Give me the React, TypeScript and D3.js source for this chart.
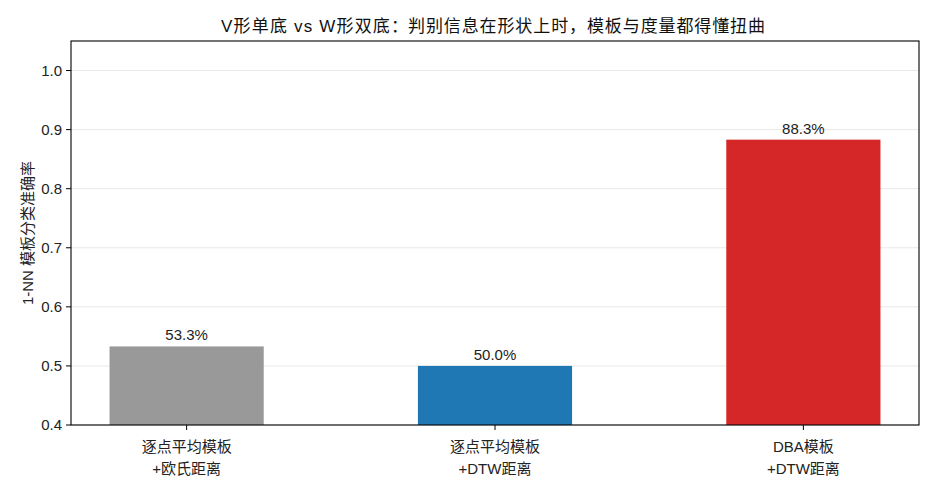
import React from "react";
import * as d3 from "d3";

const categories = ["逐点平均模板\n+欧氏距离", "逐点平均模板\n+DTW距离", "DBA模板\n+DTW距离"];
const values = [0.533, 0.5, 0.883];
const valueLabels = ["53.3%", "50.0%", "88.3%"];
const colors = ["#999999", "#1f77b4", "#d62728"];
const yTicks = [0.4, 0.5, 0.6, 0.7, 0.8, 0.9, 1.0];
const titleA = "V形单底 vs W形双底：";
const titleB = "判别信息在形状上时，模板与度量都得懂扭曲";
const yLabel = "1-NN 模板分类准确率";

const W = 935, H = 495;
const L = 71, R = 919, T = 41, B = 425;
const font = "'Liberation Sans', 'Noto Sans CJK SC', sans-serif";

export default function App() {
  const x = d3.scaleLinear().domain([-0.375, 2.375]).range([L, R]);
  const y = d3.scaleLinear().domain([0.4, 1.05]).range([B, T]);
  const bw = x(0.5) - x(0);
  return (
    <svg width={W} height={H} style={{ position: "absolute", left: 0, top: 0 }} fontFamily={font}>
      <rect width={W} height={H} fill="#fff" />
      {yTicks.map((t) => (
        <line key={"g" + t} x1={L} x2={R} y1={y(t)} y2={y(t)} stroke="#e8e8e8" strokeWidth={1} />
      ))}
      {values.map((v, i) => (
        <g key={i}>
          <rect x={x(i) - bw / 2} y={y(v)} width={bw} height={y(0.4) - y(v)} fill={colors[i]} />
          <text x={x(i)} y={y(v) - 6} textAnchor="middle" fontSize={15} fill="#222">{valueLabels[i]}</text>
        </g>
      ))}
      <rect x={L} y={T} width={R - L} height={B - T} fill="none" stroke="#000" strokeWidth={1.1} />
      {yTicks.map((t) => (
        <g key={"t" + t}>
          <line x1={L - 5} x2={L} y1={y(t)} y2={y(t)} stroke="#000" />
          <text x={L - 9} y={y(t)} dy="0.36em" textAnchor="end" fontSize={15} fill="#222">{t.toFixed(1)}</text>
        </g>
      ))}
      {categories.map((c, i) => (
        <g key={"c" + i}>
          <line x1={x(i)} x2={x(i)} y1={B} y2={B + 5} stroke="#000" />
          {c.split("\n").map((s, j) => (
            <text key={j} x={x(i)} y={B + 27 + j * 22} textAnchor="middle" fontSize={15} fill="#222">{s}</text>
          ))}
        </g>
      ))}
      <text x={33} y={(T + B) / 2} transform={`rotate(-90, 33, ${(T + B) / 2})`} textAnchor="middle" fontSize={15} fill="#222">{yLabel}</text>
      <text y={32} fontSize={17} fill="#111">
        <tspan x={221} textLength={187} lengthAdjust="spacing">{titleA}</tspan>
        <tspan x={408} textLength={357} lengthAdjust="spacing">{titleB}</tspan>
      </text>
    </svg>
  );
}
